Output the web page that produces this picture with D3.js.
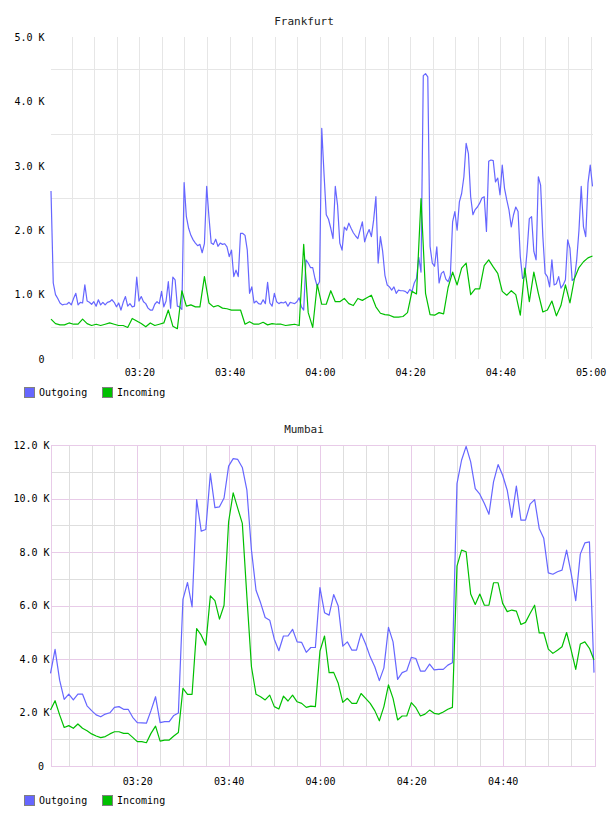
<!DOCTYPE html>
<html>
<head>
<meta charset="utf-8">
<script src="https://cdn.jsdelivr.net/npm/d3@7"></script>
<style>
  body { margin: 0; background: #fff; }
  text { font-family: "DejaVu Sans Mono", monospace; }
</style>
</head>
<body>
<div id="container"></div>
<script>
// values in K, Frankfurt outgoing every 30 s from 03:00:25
let frankfurtOutgoing = [
  2.61, 1.18, 1.00, 0.94, 0.87, 0.84, 0.85, 0.85, 0.88, 0.84,
  0.94, 1.02, 0.84, 0.88, 0.87, 1.15, 0.90, 0.88, 0.85, 0.89,
  0.82, 0.92, 0.84, 0.88, 0.84, 0.88, 0.89, 0.92, 0.88, 0.81,
  0.87, 0.76, 0.88, 0.97, 0.82, 0.86, 0.81, 0.82, 1.27, 0.90,
  0.97, 0.89, 0.86, 0.79, 0.76, 0.76, 0.85, 0.89, 0.86, 1.05,
  0.81, 0.90, 1.20, 0.79, 1.27, 1.23, 0.82, 0.81, 0.77, 2.74,
  2.21, 2.03, 1.92, 1.85, 1.80, 1.76, 1.78, 1.65, 1.79, 2.68,
  2.21, 1.80, 1.78, 1.86, 1.75, 1.80, 1.78, 1.79, 1.74, 1.59,
  1.69, 1.28, 1.38, 1.28, 1.95, 1.95, 1.92, 1.69, 1.02, 1.12,
  0.87, 0.90, 0.86, 0.85, 0.92, 0.86, 1.19, 0.87, 0.82, 1.02,
  0.89, 0.86, 0.88, 0.87, 0.89, 0.82, 0.88, 0.87, 0.86, 0.89,
  0.95, 0.81, 0.76, 1.54, 1.49, 1.42, 1.42, 1.25, 1.13, 1.20,
  3.58, 2.88, 2.24, 2.17, 2.03, 1.87, 2.68, 2.39, 1.80, 1.69,
  2.05, 2.00, 2.11, 2.03, 1.96, 1.91, 1.87, 2.00, 2.13, 1.82,
  1.93, 2.01, 1.90, 2.16, 2.52, 1.49, 1.90, 1.67, 1.30, 1.15,
  1.12, 1.07, 1.12, 1.02, 1.07, 1.06, 1.06, 1.05, 1.02, 1.08,
  1.05, 1.18, 1.25, 1.58, 1.35, 4.40, 4.43, 4.38, 1.75, 1.49,
  1.44, 1.74, 1.18, 1.33, 1.36, 1.24, 1.20, 1.30, 2.13, 2.29,
  2.00, 2.44, 2.57, 2.83, 3.35, 3.19, 2.52, 2.24, 2.32, 2.36,
  2.42, 2.50, 2.52, 1.98, 3.07, 3.09, 3.08, 2.75, 2.81, 2.55,
  3.01, 2.65, 2.47, 2.31, 2.05, 2.24, 2.36, 2.29, 1.59, 1.25,
  1.28, 1.67, 2.18, 2.21, 1.67, 1.54, 2.83, 2.70, 1.90, 1.33,
  1.28, 1.12, 1.54, 1.15, 1.17, 1.28, 1.10, 1.15, 1.23, 1.85,
  1.72, 1.22, 1.25, 1.54, 2.00, 2.68, 2.05, 1.90, 2.73, 3.01,
  2.68
]

// Frankfurt incoming every 60 s from 03:00:25
let frankfurtIncoming = [
  0.62, 0.55, 0.53, 0.53, 0.56, 0.54, 0.54, 0.62, 0.55, 0.52,
  0.54, 0.52, 0.54, 0.56, 0.54, 0.52, 0.52, 0.49, 0.63, 0.59,
  0.55, 0.50, 0.56, 0.52, 0.54, 0.56, 0.76, 0.51, 0.47, 1.06,
  0.82, 0.84, 0.81, 0.81, 1.28, 0.87, 0.81, 0.83, 0.79, 0.78,
  0.76, 0.76, 0.76, 0.54, 0.58, 0.54, 0.54, 0.57, 0.53, 0.55,
  0.54, 0.54, 0.52, 0.53, 0.54, 0.52, 1.78, 0.72, 0.49, 1.16,
  0.85, 0.85, 1.06, 0.89, 0.89, 0.94, 0.86, 0.83, 0.94, 0.91,
  0.95, 0.99, 0.81, 0.71, 0.69, 0.68, 0.65, 0.65, 0.66, 0.72,
  1.05, 1.01, 2.49, 1.02, 0.69, 0.68, 0.72, 0.70, 1.11, 1.35,
  1.15, 1.41, 1.49, 1.00, 1.09, 1.09, 1.45, 1.54, 1.43, 1.33,
  1.05, 0.99, 1.06, 1.00, 0.68, 1.41, 0.89, 1.35, 1.02, 0.73,
  0.76, 0.90, 0.67, 0.83, 1.15, 0.87, 1.25, 1.42, 1.51, 1.57,
  1.60
]

// Mumbai, every 60 s from 03:01
let mumbaiOutgoing = [
  3.46, 4.36, 3.21, 2.49, 2.69, 2.47, 2.69, 2.69, 2.25, 2.07,
  1.91, 1.84, 1.94, 1.99, 2.19, 2.22, 2.12, 2.12, 1.82, 1.62,
  1.61, 1.60, 2.07, 2.59, 1.62, 1.66, 1.66, 1.89, 1.98, 6.23,
  6.86, 5.95, 9.96, 8.78, 8.84, 10.93, 9.66, 9.69, 10.02, 11.21,
  11.49, 11.46, 11.16, 10.31, 8.07, 6.57, 6.10, 5.55, 5.45, 4.74,
  4.31, 4.86, 4.86, 5.11, 4.64, 4.62, 4.25, 4.43, 4.43, 6.67,
  5.73, 5.64, 6.41, 5.98, 4.48, 4.64, 4.33, 4.33, 4.96, 4.56,
  4.08, 3.71, 3.19, 3.67, 5.18, 4.64, 3.24, 3.49, 3.56, 4.06,
  4.02, 3.55, 3.55, 3.81, 3.59, 3.61, 3.61, 3.77, 3.86, 10.56,
  11.43, 11.95, 11.37, 10.37, 10.16, 9.81, 9.41, 10.62, 11.27, 10.87,
  10.31, 9.29, 10.46, 9.19, 9.19, 9.79, 9.96, 8.88, 8.51, 7.22,
  7.17, 7.26, 7.32, 8.07, 7.20, 6.18, 7.92, 8.34, 8.38, 3.49
]

let mumbaiIncoming = [
  2.09, 2.44, 1.91, 1.44, 1.51, 1.41, 1.57, 1.41, 1.32, 1.20,
  1.12, 1.06, 1.10, 1.20, 1.28, 1.28, 1.22, 1.22, 1.07, 0.91,
  0.91, 0.87, 1.22, 1.49, 0.93, 0.97, 0.97, 1.12, 1.25, 2.90,
  2.68, 2.68, 5.14, 4.89, 4.52, 6.36, 6.18, 5.49, 6.01, 9.13,
  10.21, 9.63, 9.07, 6.33, 3.71, 2.68, 2.59, 2.47, 2.65, 2.22,
  2.13, 2.61, 2.43, 2.65, 2.40, 2.34, 2.19, 2.24, 2.22, 4.30,
  4.86, 3.49, 3.50, 3.09, 2.38, 2.53, 2.34, 2.34, 2.71, 2.53,
  2.34, 2.07, 1.69, 2.22, 3.03, 2.53, 1.72, 1.87, 1.87, 2.37,
  2.18, 1.87, 1.94, 2.09, 1.97, 1.94, 2.02, 2.12, 2.19, 7.47,
  8.07, 8.01, 6.43, 6.04, 6.43, 6.01, 6.01, 6.85, 6.85, 6.08,
  5.77, 5.83, 5.79, 5.29, 5.37, 5.70, 6.01, 4.98, 4.98, 4.37,
  4.21, 4.33, 4.46, 4.99, 4.33, 3.61, 4.56, 4.64, 4.40, 3.96
]

let seriesNames = ['Outgoing', 'Incoming']
let seriesColors = ['#6666ff', '#00c000']

let frankfurtYTicks = [0, 1, 2, 3, 4, 5]
let mumbaiYTicks = [0, 2, 4, 6, 8, 10, 12]

let parseTime = d3.timeParse('%H:%M:%S')
let fmtTime = d3.timeFormat('%H:%M')
let fmtK = d => d === 0 ? '0' : d.toFixed(1) + ' K'

let svg

function toSeries(values, start, stepSec) {
  let t0 = parseTime(start)
  return values.map((v, i) => ({t: d3.timeSecond.offset(t0, i * stepSec), v: v}))
}

function main() {
  svg = d3.select('#container').append('svg')
    .attr('width', 608)
    .attr('height', 816)

  build({
    title: 'Frankfurt', titleY: 24.5,
    left: 51, right: 592.5, top: 37, bottom: 359,
    yMax: 5, yTicks: frankfurtYTicks, yPad: 6.5,
    xPad: 10, legendY: 392, framed: false,
    series: [toSeries(frankfurtOutgoing, '03:00:25', 30), toSeries(frankfurtIncoming, '03:00:25', 60)],
    domain: [parseTime('03:00:25'), parseTime('05:00:25')]
  })

  build({
    title: 'Mumbai', titleY: 433,
    left: 50.5, right: 594, top: 445, bottom: 766,
    yMax: 12, yTicks: mumbaiYTicks, yPad: 1,
    xPad: 12, legendY: 800, framed: true,
    series: [toSeries(mumbaiOutgoing, '03:01:00', 60), toSeries(mumbaiIncoming, '03:01:00', 60)],
    domain: [parseTime('03:01:00'), parseTime('05:00:00')]
  })
}

function build(c) {
  let g = svg.append('g')

  let x = d3.scaleTime().domain(c.domain).range([c.left, c.right])
  let y = d3.scaleLinear().domain([0, c.yMax]).range([c.bottom, c.top])

  let minorTicks = d3.timeMinute.every(5).range(c.domain[0], d3.timeSecond.offset(c.domain[1], 1))
  if (c.framed) minorTicks = minorTicks.filter(d => d < c.domain[1])
  let majorTicks = minorTicks.filter(d => d.getMinutes() % 20 === 0)

  let gray = c.framed ? '#dedede' : '#e6e6e6'
  let pink = '#e8cbe8'

  // grid
  let grid = g.append('g').attr('shape-rendering', 'crispEdges')
  let hVals = c.framed ? d3.range(1, c.yMax, 1) : d3.range(0.5, c.yMax, 1)
  grid.selectAll('.h').data(hVals).enter().append('line')
    .attr('x1', c.left).attr('x2', c.right)
    .attr('y1', d => Math.round(y(d)) + 0.5).attr('y2', d => Math.round(y(d)) + 0.5)
    .attr('stroke', d => (c.framed && d % 2 === 0) ? pink : gray)
  grid.selectAll('.v').data(minorTicks).enter().append('line')
    .attr('x1', d => Math.round(x(d)) + 0.5).attr('x2', d => Math.round(x(d)) + 0.5)
    .attr('y1', c.top).attr('y2', c.bottom)
    .attr('stroke', d => (c.framed && d.getMinutes() % 20 === 0) ? pink : gray)
  if (c.framed) {
    grid.append('rect')
      .attr('x', Math.round(c.left) + 0.5).attr('y', Math.round(c.top) + 0.5)
      .attr('width', Math.round(c.right - c.left)).attr('height', Math.round(c.bottom - c.top))
      .attr('fill', 'none').attr('stroke', pink)
  }

  // axes
  let yAxis = d3.axisLeft(y).tickValues(c.yTicks).tickFormat(fmtK).tickSize(0).tickPadding(c.yPad)
  let ya = g.append('g').attr('transform', `translate(${c.left},0)`).call(yAxis)
  ya.select('.domain').remove()
  ya.selectAll('text').attr('font-size', 10).attr('fill', '#000')
    .attr('font-family', '"DejaVu Sans Mono", monospace')
    .attr('x', d => d === 0 ? -6.5 : -c.yPad)

  let xAxis = d3.axisBottom(x).tickValues(majorTicks).tickFormat(fmtTime).tickSize(0).tickPadding(c.xPad)
  let xa = g.append('g').attr('transform', `translate(0,${c.bottom})`).call(xAxis)
  xa.select('.domain').remove()
  xa.selectAll('text').attr('font-size', 10).attr('fill', '#000')
    .attr('font-family', '"DejaVu Sans Mono", monospace')

  // lines
  let line = d3.line().x(d => x(d.t)).y(d => y(d.v))
  g.selectAll('.series').data(c.series).enter().append('path')
    .attr('d', d => line(d))
    .attr('fill', 'none')
    .attr('stroke', (d, i) => seriesColors[i])
    .attr('stroke-width', 1.2)
    .attr('stroke-linejoin', 'round')

  // title
  g.append('text')
    .attr('x', 304).attr('y', c.titleY)
    .attr('text-anchor', 'middle')
    .attr('font-size', 11).attr('fill', '#222')
    .text(c.title)

  // legend
  let legendX = [24.5, 102.5]
  let lg = g.selectAll('.legend').data(seriesNames).enter().append('g')
    .attr('transform', (d, i) => `translate(${legendX[i]},${c.legendY - 5})`)
  lg.append('rect')
    .attr('width', 10).attr('height', 10)
    .attr('fill', (d, i) => seriesColors[i])
    .attr('stroke', '#808080')
    .attr('shape-rendering', 'crispEdges')
  lg.append('text')
    .attr('x', 14.5).attr('y', 8.5)
    .attr('font-size', 10).attr('fill', '#000')
    .text(d => d)
}

main()
</script>
</body>
</html>
